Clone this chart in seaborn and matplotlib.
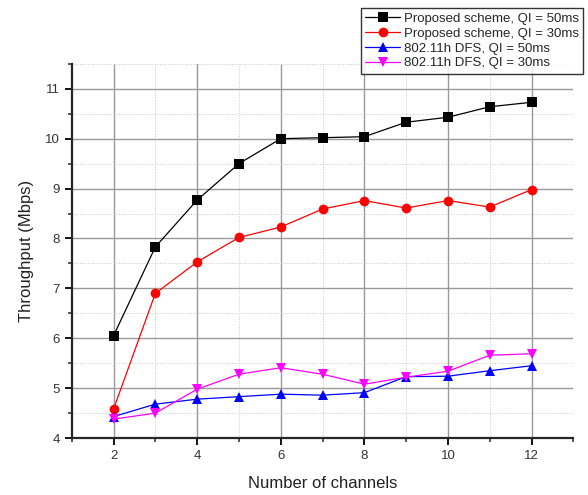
import pandas as pd
import matplotlib.pyplot as plt
from matplotlib.ticker import MultipleLocator
import seaborn as sns

channels = [2, 3, 4, 5, 6, 7, 8, 9, 10, 11, 12]
proposed_50 = [6.05, 7.83, 8.77, 9.50, 10.00, 10.02, 10.04, 10.33, 10.43, 10.64, 10.73]
proposed_30 = [4.58, 6.90, 7.53, 8.02, 8.23, 8.59, 8.76, 8.61, 8.76, 8.63, 8.98]
dfs_50 = [4.43, 4.68, 4.78, 4.83, 4.88, 4.86, 4.91, 5.23, 5.24, 5.35, 5.45]
dfs_30 = [4.38, 4.50, 4.98, 5.28, 5.41, 5.28, 5.08, 5.22, 5.34, 5.66, 5.69]
series_names = ["Proposed scheme, QI = 50ms", "Proposed scheme, QI = 30ms",
                "802.11h DFS, QI = 50ms", "802.11h DFS, QI = 30ms"]

rows = []
for name, vals in zip(series_names, [proposed_50, proposed_30, dfs_50, dfs_30]):
    for c, v in zip(channels, vals):
        rows.append({"Channels": c, "Throughput": v, "Scheme": name})
df = pd.DataFrame(rows)

sns.set_style("ticks")
plt.rcParams['font.family'] = ['Liberation Sans', 'DejaVu Sans']

fig = plt.figure(figsize=(5.88, 4.95), dpi=100)
ax = fig.add_axes([0.122, 0.115, 0.853, 0.756])

palette = dict(zip(series_names, ["black", "red", "blue", "magenta"]))
markers = dict(zip(series_names, ["s", "o", "^", "v"]))
sns.lineplot(data=df, x="Channels", y="Throughput", hue="Scheme", style="Scheme",
             palette=palette, markers=markers, dashes=False, markersize=7,
             linewidth=0.9, markeredgewidth=0, ax=ax, legend=True, zorder=3)

ax.set_xlim(1, 13)
ax.set_ylim(4, 11.5)
ax.xaxis.set_major_locator(MultipleLocator(2))
ax.xaxis.set_minor_locator(MultipleLocator(1))
ax.yaxis.set_major_locator(MultipleLocator(1))
ax.yaxis.set_minor_locator(MultipleLocator(0.5))
ax.grid(which="major", color="#999999", linewidth=1.0, linestyle="-")
ax.grid(which="minor", color="#c8c8c8", linewidth=0.7, linestyle=":")
ax.set_axisbelow(True)

for s in ["top", "right"]:
    ax.spines[s].set_visible(False)
for s in ["left", "bottom"]:
    ax.spines[s].set_linewidth(1.6)
ax.tick_params(which="major", direction="out", length=5, width=1.3, labelsize=9.5,
               colors="black", labelcolor="#333333")
ax.tick_params(which="minor", direction="out", length=3, width=1.1)
ax.set_xticklabels([str(int(t)) for t in ax.get_xticks()])

ax.set_xlabel("Number of channels", fontsize=12, labelpad=10, color="#222222")
ax.set_ylabel("Throughput (Mbps)", fontsize=12, labelpad=8, color="#222222")

handles, labels = ax.get_legend_handles_labels()
ax.get_legend().remove()
leg = fig.legend(handles, labels, loc="upper right", bbox_to_anchor=(0.992, 0.984),
                 borderaxespad=0, fontsize=9.5, frameon=True, fancybox=False,
                 edgecolor="black", handlelength=2.6, borderpad=0.35,
                 labelspacing=0.2, handletextpad=0.3)
leg.get_frame().set_linewidth(1.0)

fig.savefig("out.png", dpi=100)
